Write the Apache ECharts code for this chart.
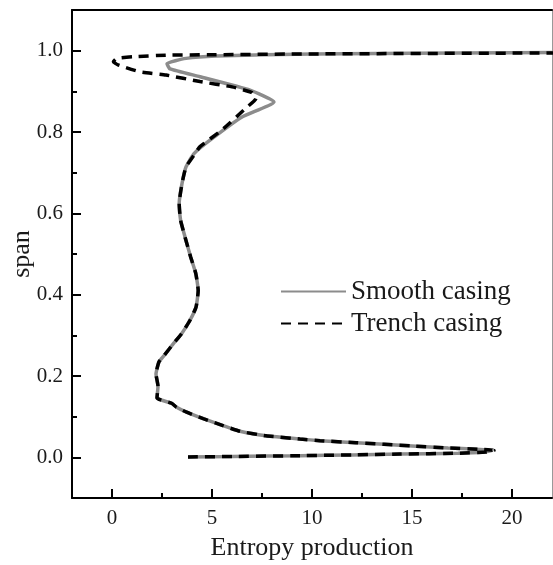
<!DOCTYPE html>
<html>
<head>
<meta charset="utf-8">
<script src="https://cdn.jsdelivr.net/npm/echarts@6/dist/echarts.min.js"></script>
<style>html,body{margin:0;padding:0;background:#fff;}#c{width:553px;height:565px;}</style>
</head>
<body>
<div id="c"></div>
<script>
// ---- data (entropy production, span) ----
const smoothX = [3.8, 6.0, 9.4, 12.0, 14.4, 17.3, 18.6, 19.0, 18.2, 16.8, 15.0, 12.2, 10.4, 9.4, 7.7, 6.4, 5.55, 4.56, 3.73, 3.23, 2.98, 2.25, 2.3, 2.2, 2.35, 2.6, 3.06, 3.48, 3.9, 4.2, 4.31, 4.19, 3.93, 3.65, 3.43, 3.36, 3.5, 3.7, 4.1, 4.9, 6.5, 8.1, 6.9, 4.4, 2.9, 2.75, 3.7, 5.2, 10.0, 20.0, 30.0];
const smoothSpan = [0.001, 0.002, 0.004, 0.006, 0.008, 0.010, 0.013, 0.017, 0.020, 0.023, 0.028, 0.036, 0.041, 0.045, 0.053, 0.064, 0.078, 0.095, 0.111, 0.123, 0.133, 0.146, 0.175, 0.205, 0.235, 0.250, 0.279, 0.304, 0.337, 0.369, 0.410, 0.452, 0.493, 0.542, 0.583, 0.624, 0.673, 0.714, 0.747, 0.780, 0.837, 0.874, 0.903, 0.936, 0.955, 0.968, 0.981, 0.987, 0.992, 0.995, 0.997];
const trenchX = [3.8, 6.0, 9.4, 12.0, 14.4, 17.3, 18.7, 19.1, 18.3, 16.8, 15.0, 12.2, 10.4, 9.4, 7.7, 6.4, 5.55, 4.56, 3.73, 3.23, 2.98, 2.25, 2.3, 2.2, 2.35, 2.6, 3.06, 3.48, 3.9, 4.2, 4.31, 4.19, 3.93, 3.65, 3.43, 3.36, 3.5, 3.7, 4.1, 4.4, 5.5, 6.7, 7.2, 7.0, 6.0, 4.4, 2.7, 1.4, 0.3, 0.07, 0.24, 1.06, 2.7, 5.0, 10.0, 20.0, 30.0];
const trenchSpan = [0.001, 0.002, 0.004, 0.006, 0.008, 0.010, 0.013, 0.017, 0.020, 0.023, 0.028, 0.036, 0.041, 0.045, 0.053, 0.064, 0.078, 0.095, 0.111, 0.123, 0.133, 0.146, 0.175, 0.205, 0.235, 0.250, 0.279, 0.304, 0.337, 0.369, 0.410, 0.452, 0.493, 0.542, 0.583, 0.624, 0.673, 0.714, 0.743, 0.764, 0.805, 0.859, 0.883, 0.897, 0.911, 0.924, 0.940, 0.948, 0.965, 0.973, 0.981, 0.985, 0.989, 0.990, 0.992, 0.994, 0.996];
const seriesNames = ['Smooth casing', 'Trench casing'];
const xMajorTicks = [0, 5, 10, 15, 20];
const xMinorTicks = [2.5, 7.5, 12.5, 17.5];
const yMajorTicks = [0.0, 0.2, 0.4, 0.6, 0.8, 1.0];
const yMinorTicks = [0.1, 0.3, 0.5, 0.7, 0.9];
const xName = 'Entropy production';
const yName = 'span';

const zip = (xs, ys) => xs.map((x, i) => [x, ys[i]]);
const FONT = '"Liberation Serif", "Times New Roman", serif';
const TXT = '#1a1a1a';

const chart = echarts.init(document.getElementById('c'), null, {renderer: 'canvas'});
const hide = {show: false};
const line = (color, width) => ({show: true, onZero: false, lineStyle: {color, width}});
chart.setOption({
  animation: false,
  backgroundColor: '#fff',
  grid: {left: 72, right: 1, top: 10, bottom: 67, containLabel: false, outerBoundsMode: 'none'},
  legend: {
    data: seriesNames,
    orient: 'vertical',
    left: 275, top: 273,
    itemWidth: 65, itemHeight: 14, itemGap: 5,
    itemStyle: {opacity: 0},
    textStyle: {fontFamily: FONT, fontSize: 27, color: TXT, lineHeight: 27}
  },
  xAxis: [
    {
      type: 'value', position: 'bottom', min: -2, max: 22,
      name: xName, nameLocation: 'middle', nameGap: 37, nameMoveOverlap: false,
      nameTextStyle: {fontFamily: FONT, fontSize: 26, color: TXT},
      axisLine: line('#000', 2),
      axisTick: {show: true, inside: true, length: 9, customValues: xMajorTicks, lineStyle: {color: '#000', width: 2}},
      axisLabel: {show: true, customValues: xMajorTicks, margin: 10, fontFamily: FONT, fontSize: 21, color: TXT},
      splitLine: hide
    },
    {
      type: 'value', position: 'bottom', min: -2, max: 22,
      axisLine: {show: false, onZero: false},
      axisTick: {show: true, inside: true, length: 5, customValues: xMinorTicks, lineStyle: {color: '#000', width: 2}},
      axisLabel: hide, splitLine: hide
    },
    {
      type: 'value', position: 'top', min: -2, max: 22,
      axisLine: line('#000', 2),
      axisTick: hide, axisLabel: hide, splitLine: hide
    }
  ],
  yAxis: [
    {
      type: 'value', position: 'left', min: -0.1, max: 1.1,
      name: yName, nameLocation: 'middle', nameGap: 37, nameRotate: 90, nameMoveOverlap: false,
      nameTextStyle: {fontFamily: FONT, fontSize: 26, color: TXT},
      axisLine: line('#000', 2),
      axisTick: {show: true, inside: true, length: 9, customValues: yMajorTicks, lineStyle: {color: '#000', width: 2}},
      axisLabel: {show: true, customValues: yMajorTicks, margin: 9, fontFamily: FONT, fontSize: 21, color: TXT,
        formatter: v => Number(v).toFixed(1)},
      splitLine: hide
    },
    {
      type: 'value', position: 'left', min: -0.1, max: 1.1,
      axisLine: {show: false, onZero: false},
      axisTick: {show: true, inside: true, length: 5, customValues: yMinorTicks, lineStyle: {color: '#000', width: 2}},
      axisLabel: hide, splitLine: hide
    },
    {
      type: 'value', position: 'right', min: -0.1, max: 1.1,
      axisLine: line('#999', 1),
      axisTick: hide, axisLabel: hide, splitLine: hide
    }
  ],
  series: [
    {
      name: seriesNames[0], type: 'line', xAxisIndex: 0, yAxisIndex: 0,
      data: zip(smoothX, smoothSpan), symbol: 'none', smooth: 0.15,
      lineStyle: {color: '#8c8c8c', width: 3.5},
      itemStyle: {color: '#8c8c8c'}, z: 2
    },
    {
      name: seriesNames[1], type: 'line', xAxisIndex: 0, yAxisIndex: 0,
      data: zip(trenchX, trenchSpan), symbol: 'none', smooth: 0.15,
      lineStyle: {color: '#000', width: 3.5, type: [10, 7]},
      itemStyle: {color: '#000'}, z: 3
    }
  ]
});
</script>
</body>
</html>
